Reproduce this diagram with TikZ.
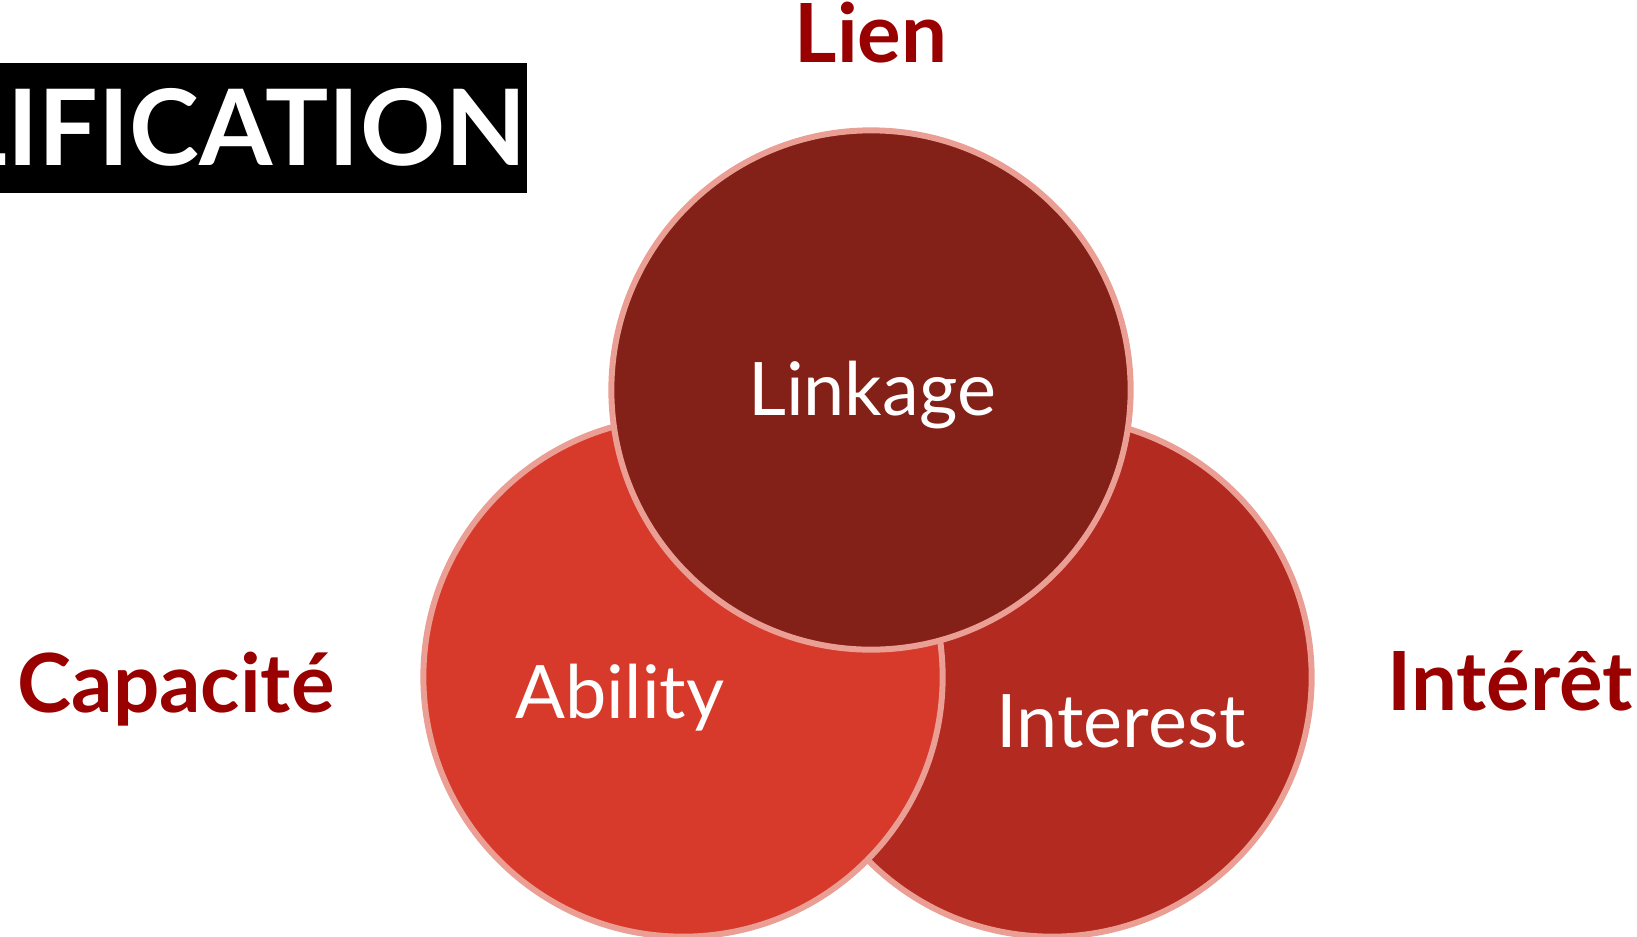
\documentclass[tikz,border=0pt]{standalone}
\usepackage{fontspec}
\setmainfont{Lato}
\newfontfamily\headfont{Lato}
\usetikzlibrary{positioning}

\definecolor{linkred}{HTML}{832018}
\definecolor{ablred}{HTML}{D73A2B}
\definecolor{intred}{HTML}{B22A20}
\definecolor{rimpink}{HTML}{EA9E94}
\definecolor{labred}{HTML}{990000}

\begin{document}
\begin{tikzpicture}[
            x=0.01cm, y=-0.01cm,
            set/.style={circle,draw=rimpink,line width=1.7pt,minimum size=5.19cm,inner sep=0pt},
            settext/.style={anchor=base,text=white,font=\fontsize{21}{25}\selectfont},
            side/.style={anchor=base,text=labred,font=\headfont\bfseries\fontsize{23.2}{28}\selectfont}
        ]
            \useasboundingbox (0,0) rectangle (1637,936);

            % title bar, cut at the left edge
            \fill[black] (0,63) rectangle (527,193);
            \node[anchor=base east,inner sep=0pt,text=white,font=\headfont\bfseries\fontsize{30}{36}\selectfont] (title) at (527,165) {LIFICATION};

            % the three sets
            \node[set,fill=intred] (interest) at (1052,677) {};
            \node[set,fill=ablred] (ability) at (683,677) {};
            \node[set,fill=linkred] (linkage) at (871,390) {};

            \node[settext] (linkagetxt) at (872,415) {Linkage};
            \node[settext] (abilitytxt) at (620,718) {Ability};
            \node[settext] (interesttxt) at (1121,747) {Interest};

            % french names
            \node[side] (lien) at (871,62) {Lien};
            \node[side] (capacite) at (176,712) {Capacité};
            \node[side] (interet) at (1510,710) {Intérêt};
        \end{tikzpicture}
\end{document}
